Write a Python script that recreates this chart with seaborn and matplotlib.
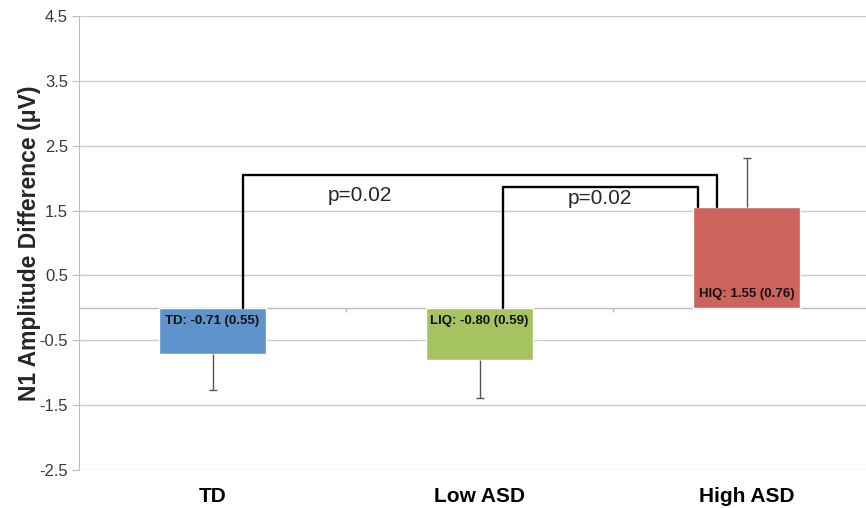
import matplotlib
matplotlib.use('Agg')
import matplotlib.pyplot as plt
import seaborn as sns
import numpy as np

groups = ['TD', 'Low ASD', 'High ASD']
means = [-0.71, -0.80, 1.55]
sds = [0.55, 0.59, 0.76]
bar_labels = ['TD: -0.71 (0.55)', 'LIQ: -0.80 (0.59)', 'HIQ: 1.55 (0.76)']
colors = ['#5E93CC', '#A6C362', '#CC635C']
yticks = [-2.5, -1.5, -0.5, 0.5, 1.5, 2.5, 3.5, 4.5]
p_texts = ['p=0.02', 'p=0.02']

sns.set_style('white')
plt.rcParams['font.family'] = ['Liberation Sans', 'DejaVu Sans']

fig = plt.figure(figsize=(8.66, 5.08), dpi=100)
ax = fig.add_axes([79 / 866, 1 - 470 / 508, 801 / 866, 454 / 508])

sns.barplot(x=groups, y=means, hue=groups, palette=colors, width=0.4,
            legend=False, ax=ax, zorder=3, saturation=1)

# one-sided error bars, pointing away from zero
xs = np.arange(len(groups))
tips = [m + np.sign(m) * s for m, s in zip(means, sds)]
ax.vlines(xs, means, tips, color='#555555', linewidth=1, zorder=4)
ax.scatter(xs, tips, marker='_', s=30, color='#555555', linewidths=1, zorder=4)

ax.set_xlim(-0.5, 2.5)
ax.set_ylim(-2.5, 4.5)
ax.set_yticks(yticks)
ax.set_yticklabels([str(t) for t in yticks], fontsize=12, color='#3a3a3a')
ax.yaxis.grid(True, color='#cccccc', linewidth=1)
ax.set_axisbelow(True)
for s in ['top', 'right', 'bottom']:
    ax.spines[s].set_visible(False)
ax.spines['left'].set_color('#bbbbbb')
ax.tick_params(axis='y', length=5, color='#bbbbbb', left=True, pad=3)
ax.tick_params(axis='x', length=0, pad=12)
ax.set_xticks(xs)
ax.set_xticklabels(groups, fontsize=15, fontweight='bold', color='black')
ax.set_ylabel('N1 Amplitude Difference (μV)', fontsize=16.5, fontweight='bold', labelpad=-1)
ax.set_xlabel('')

# category axis at zero
ax.axhline(0, color='#bbbbbb', linewidth=1, zorder=2)
ax.vlines([0.5, 1.5], -0.07, 0, color='#bbbbbb', linewidth=1, zorder=2)

# value labels inside bars
label_y = [-0.2, -0.2, 0.22]
for i, (txt, y) in enumerate(zip(bar_labels, label_y)):
    ax.text(i, y, txt, ha='center', va='center', fontsize=9.5, fontweight='bold',
            color='#111111', zorder=5)

# significance brackets
ax.plot([0.115, 0.115, 1.89, 1.89], [0, 2.05, 2.05, means[2]],
        color='black', linewidth=1.7, zorder=5)
ax.plot([1.088, 1.088, 1.818, 1.818], [0, 1.86, 1.86, means[2]],
        color='black', linewidth=1.7, zorder=5)
ax.text(0.552, 1.74, p_texts[0], ha='center', va='center', fontsize=15, zorder=5)
ax.text(1.451, 1.68, p_texts[1], ha='center', va='center', fontsize=15, zorder=5)

fig.savefig('out.png', dpi=100)
